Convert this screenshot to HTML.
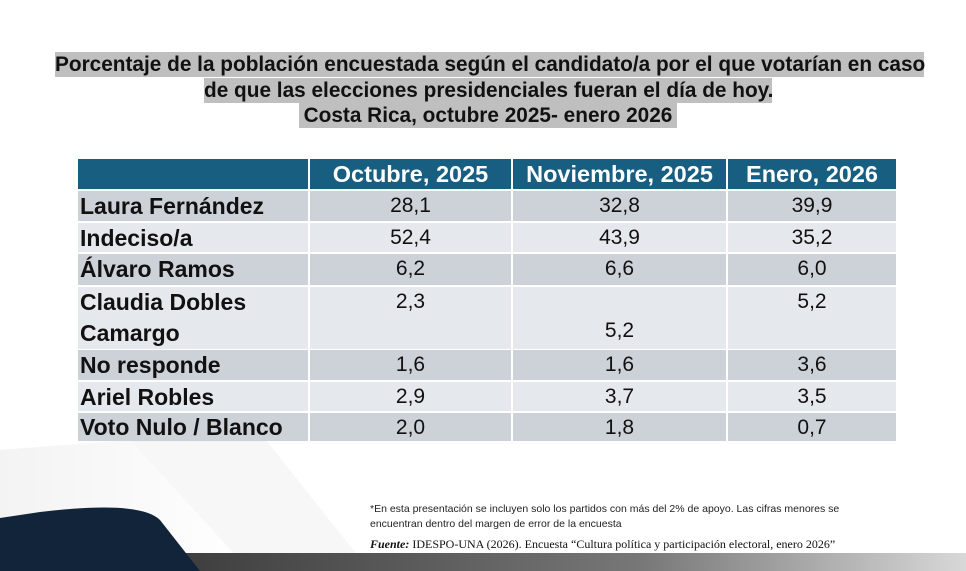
<!DOCTYPE html>
<html><head><meta charset="utf-8"><style>
body{margin:0;width:966px;height:571px;position:relative;overflow:hidden;background:#fff;font-family:"Liberation Sans",sans-serif}
.t{position:absolute;background:#bfbfbf;font-weight:bold;font-size:20.8px;color:#111;line-height:25px;white-space:nowrap}
.c{position:absolute;box-sizing:border-box;font-size:21px;color:#111;line-height:30px}
.h{background:#175e80;color:#fff;font-weight:bold;text-align:center;font-size:23.5px}
.l{font-weight:bold;padding-left:2px;font-size:23px;white-space:nowrap}
.n{text-align:center}
.o{background:#cdd1d8}.e{background:#e5e8ec}
</style></head><body>
<svg style="position:absolute;left:0;top:0" width="966" height="571">
<defs><linearGradient id="g" x1="0" x2="1"><stop offset="0" stop-color="#3a3a3a"/><stop offset="0.6" stop-color="#777"/><stop offset="1" stop-color="#d8d8d8"/></linearGradient>
<linearGradient id="f" x1="0" x2="1"><stop offset="0" stop-color="#f3f3f3"/><stop offset="1" stop-color="#fff"/></linearGradient></defs>
<polygon points="0,450 130,440 250,571 0,571" fill="url(#f)"/>
<polygon points="130,440 250,420 370,571 250,571" fill="#f7f7f7"/>
<rect x="150" y="553" width="816" height="18" fill="url(#g)"/>
<path d="M0,518 L40,512 Q140,500 160,520 L200,571 L0,571 Z" fill="#12243a"/>
</svg>
<div class="t" style="left:55px;top:52px;width:869px;text-align:center">Porcentaje de la población encuestada según el candidato/a por el que votarían en caso</div>
<div class="t" style="left:204px;top:78px;width:568px;text-align:center">de que las elecciones presidenciales fueran el día de hoy.</div>
<div class="t" style="left:299px;top:103px;width:378px;text-align:center">Costa Rica, octubre 2025- enero 2026</div>

<div class="c h" style="left:78px;top:159px;width:230px;height:30px"></div>
<div class="c h" style="left:310px;top:159px;width:201px;height:30px">Octubre, 2025</div>
<div class="c h" style="left:513px;top:159px;width:213px;height:30px">Noviembre, 2025</div>
<div class="c h" style="left:728px;top:159px;width:168px;height:30px">Enero, 2026</div>

<div class="c l o" style="left:78px;top:191px;width:230px;height:30px">Laura Fernández</div>
<div class="c n o" style="left:310px;top:191px;width:201px;height:30px">28,1</div>
<div class="c n o" style="left:513px;top:191px;width:213px;height:30px">32,8</div>
<div class="c n o" style="left:728px;top:191px;width:168px;height:30px">39,9</div>

<div class="c l e" style="left:78px;top:223px;width:230px;height:29px">Indeciso/a</div>
<div class="c n e" style="left:310px;top:223px;width:201px;height:29px">52,4</div>
<div class="c n e" style="left:513px;top:223px;width:213px;height:29px">43,9</div>
<div class="c n e" style="left:728px;top:223px;width:168px;height:29px">35,2</div>

<div class="c l o" style="left:78px;top:254px;width:230px;height:31px">Álvaro Ramos</div>
<div class="c n o" style="left:310px;top:254px;width:201px;height:31px">6,2</div>
<div class="c n o" style="left:513px;top:254px;width:213px;height:31px">6,6</div>
<div class="c n o" style="left:728px;top:254px;width:168px;height:31px">6,0</div>

<div class="c l e" style="left:78px;top:287px;width:230px;height:62px;line-height:31px">Claudia Dobles<br>Camargo</div>
<div class="c n e" style="left:310px;top:287px;width:201px;height:62px">2,3</div>
<div class="c n e" style="left:513px;top:287px;width:213px;height:62px;padding-top:29px">5,2</div>
<div class="c n e" style="left:728px;top:287px;width:168px;height:62px">5,2</div>

<div class="c l o" style="left:78px;top:350px;width:230px;height:30px">No responde</div>
<div class="c n o" style="left:310px;top:350px;width:201px;height:30px">1,6</div>
<div class="c n o" style="left:513px;top:350px;width:213px;height:30px">1,6</div>
<div class="c n o" style="left:728px;top:350px;width:168px;height:30px">3,6</div>

<div class="c l e" style="left:78px;top:382px;width:230px;height:29px">Ariel Robles</div>
<div class="c n e" style="left:310px;top:382px;width:201px;height:29px">2,9</div>
<div class="c n e" style="left:513px;top:382px;width:213px;height:29px">3,7</div>
<div class="c n e" style="left:728px;top:382px;width:168px;height:29px">3,5</div>

<div class="c l o" style="left:78px;top:413px;width:230px;height:28px;line-height:29px">Voto Nulo / Blanco</div>
<div class="c n o" style="left:310px;top:413px;width:201px;height:28px;line-height:29px">2,0</div>
<div class="c n o" style="left:513px;top:413px;width:213px;height:28px;line-height:29px">1,8</div>
<div class="c n o" style="left:728px;top:413px;width:168px;height:28px;line-height:29px">0,7</div>

<div style="position:absolute;left:370px;top:502px;font-size:10.5px;line-height:15px;color:#222;width:520px">*En esta presentación se incluyen solo los partidos con más del 2% de apoyo. Las cifras menores se<br>encuentran dentro del margen de error de la encuesta</div>
<div style="position:absolute;left:370px;top:537px;font-size:12px;font-family:'Liberation Serif',serif;color:#111;white-space:nowrap"><b><i>Fuente:</i></b> IDESPO-UNA (2026). Encuesta “Cultura política y participación electoral, enero 2026”</div>
</body></html>
